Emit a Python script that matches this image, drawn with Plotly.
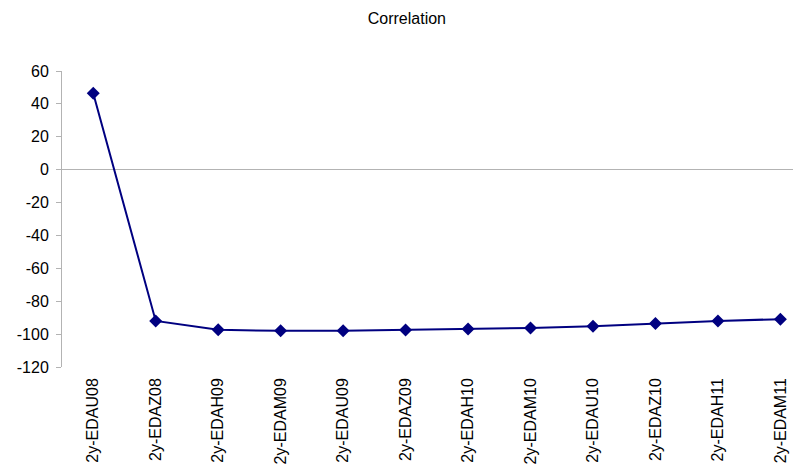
import plotly.graph_objects as go

categories = ["2y-EDAU08", "2y-EDAZ08", "2y-EDAH09", "2y-EDAM09", "2y-EDAU09", "2y-EDAZ09",
              "2y-EDAH10", "2y-EDAM10", "2y-EDAU10", "2y-EDAZ10", "2y-EDAH11", "2y-EDAM11"]
correlation = [46.5, -92.0, -97.4, -98.0, -98.0, -97.5, -96.9, -96.3, -95.2, -93.6, -92.0, -90.9]
y_ticks = [-120, -100, -80, -60, -40, -20, 0, 20, 40, 60]
y_tick_labels = ["-120", "-100", "-80", "-60", "-40", "-20", "0", "20", "40", "60"]

fig = go.Figure()
fig.add_trace(go.Scatter(
    x=categories, y=correlation, mode="lines+markers",
    line=dict(color="#000080", width=2),
    marker=dict(symbol="diamond", size=10, color="#000080"),
    showlegend=False,
))

font = "Liberation Sans, Arial, sans-serif"
fig.update_layout(
    width=793, height=462,
    paper_bgcolor="white", plot_bgcolor="white",
    margin=dict(l=54, r=0, t=63, b=103),
    title=dict(text="Correlation", x=0.503, xanchor="center", y=0.978, yanchor="middle",
               font=dict(family=font, size=16, color="black")),
    font=dict(family=font, size=16, color="black"),
)
fig.update_xaxes(
    type="category", range=[-0.5, 11.33], showgrid=False, showline=False,
    ticks="", tickangle=-90, ticklabelstandoff=7,
    tickfont=dict(family=font, size=16, color="black"),
)
fig.update_yaxes(
    range=[-120, 60], tickvals=y_ticks, ticktext=y_tick_labels, showgrid=False,
    showline=True, linecolor="#b3b3b3", linewidth=1,
    ticks="outside", ticklen=5, tickcolor="#b3b3b3", ticklabelstandoff=4,
    zeroline=True, zerolinecolor="#b3b3b3", zerolinewidth=1,
    tickfont=dict(family=font, size=16, color="black"),
)

fig.write_html("out.html")
